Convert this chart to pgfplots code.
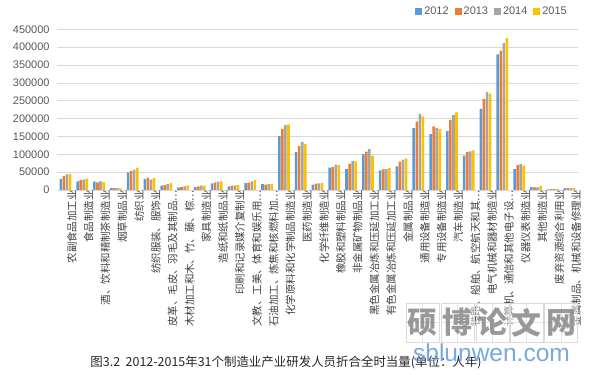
\documentclass[border=0pt]{standalone}
\usepackage{pgfplots}
\usepackage{pgfplotstable}
\pgfplotsset{compat=1.18}
\usepackage{fontspec}
\setmainfont{Liberation Sans}
\newfontfamily\cjk{Noto Sans CJK SC}
\definecolor{cA}{HTML}{5B9BD5}
\definecolor{cB}{HTML}{ED7D31}
\definecolor{cC}{HTML}{A5A5A5}
\definecolor{cD}{HTML}{FFC000}
\definecolor{gridgray}{HTML}{D9D9D9}
\definecolor{tickgray}{HTML}{595959}
\definecolor{labgray}{HTML}{404040}
\definecolor{wmblue}{HTML}{6A9FE0}

\pgfplotstableread{
x  a      b      c      d
0  30800  39200  43900  44800
1  24300  28000  28900  31700
2  23300  21500  24300  22400
3  5500   5000   5000   4500
4  49500  53200  57000  62500
5  30800  34500  28900  33600
6  12100  14000  16800  19600
7  6500   8400   10300  13000
8  8400   10300  12100  12100
9  18700  21500  23300  24300
10 10300  12100  13000  14000
11 19600  20500  24300  28000
12 16800  14900  16800  16800
13 151000 171000 182000 184000
14 106000 123000 134000 129000
15 14900  17700  18700  19600
16 62500  64400  71000  70000
17 58800  73800  81200  79400
18 100800 107400 114800 96200
19 55100  57900  58800  61600
20 66300  79400  85000  88700
21 173600 191400 212900 206300
22 156800 178300 173600 170800
23 165200 196000 210000 217500
24 96200  106400 108300 111100
25 226900 254900 274500 269800
26 380000 390200 411700 425700
27 58800  70000  72800  68200
28 8400   7500   7500   11200
29 1500   2500   3000   2500
30 5000   5500   5500   6000
}\datatable

\begin{document}
\begin{tikzpicture}
\useasboundingbox (0bp,0bp) rectangle (594bp,375bp);
\begin{axis}[
  at={(57bp,185bp)}, anchor=south west,
  scale only axis, width=521bp, height=160.67bp,
  ymin=0, ymax=450000, ytick={0,50000,...,450000},
  xmin=-0.5, xmax=30.5, xtick={0,...,30},
  xticklabels={{农副食品加工业},{食品制造业},{酒、饮料和精制茶制造业},{烟草制品业},{纺织业},{纺织服装、服饰业},{皮革、毛皮、羽毛及其制品…},{木材加工和木、竹、藤、棕…},{家具制造业},{造纸和纸制品业},{印刷和记录媒介复制业},{文教、工美、体育和娱乐用…},{石油加工、炼焦和核燃料加…},{化学原料和化学制品制造业},{医药制造业},{化学纤维制造业},{橡胶和塑料制品业},{非金属矿物制品业},{黑色金属冶炼和压延加工业},{有色金属冶炼和压延加工业},{金属制品业},{通用设备制造业},{专用设备制造业},{汽车制造业},{铁路、船舶、航空航天和其…},{电气机械和器材制造业},{计算机、通信和其他电子设…},{仪器仪表制造业},{其他制造业},{废弃资源综合利用业},{金属制品、机械和设备修理业}},
  xticklabel style={rotate=90, anchor=east, font=\cjk\fontsize{10.5}{12}\selectfont, text=labgray, inner sep=0pt, yshift=-6.5bp},
  yticklabel style={font=\fontsize{11}{13}\selectfont, text=tickgray, xshift=-4bp},
  /pgf/number format/fixed,
  /pgf/number format/precision=0,
  /pgf/number format/1000 sep={},
  /pgf/number format/assume math mode=true,
  scaled y ticks=false,
  ybar=0.45bp, bar width=2.6bp,
  ymajorgrids, grid style={draw=gridgray, line width=0.7bp},
  axis line style={draw=none},
  tick style={draw=none}, major tick length=0pt,
  legend style={at={(0.835,1.112)}, anchor=center, legend columns=4, draw=none, fill=none,
    font=\fontsize{11}{13}\selectfont, text=tickgray,
    /tikz/every even column/.append style={column sep=4bp}},
  legend image code/.code={\fill[#1] (0bp,-3.5bp) rectangle (7bp,3.5bp);},
]
\addplot[draw=none, fill=cA] table[x=x, y=a] {\datatable};
\addplot[draw=none, fill=cB] table[x=x, y=b] {\datatable};
\addplot[draw=none, fill=cC] table[x=x, y=c] {\datatable};
\addplot[draw=none, fill=cD] table[x=x, y=d] {\datatable};
\legend{2012,2013,2014,2015}
\end{axis}
% caption
\node[font=\cjk\fontsize{12.5}{14}\selectfont, text=black!85] at (286bp,13bp)
  {图3.2\ \ 2012-2015年31个制造业产业研发人员折合全时当量(单位：人年)};
% watermark
\foreach \cx/\ch in {422.5/硕,457.5/博,492.5/论,526.5/文,561/网}{
  \fill[white, opacity=0.45] (\cx bp-16.5bp,33bp) rectangle (\cx bp+16.5bp,72bp);
  \draw[gray!30, line width=0.5bp] (\cx bp-16.5bp,33bp) rectangle (\cx bp+16.5bp,72bp);
  \draw[gray!20, line width=0.4bp] (\cx bp,33bp) -- (\cx bp,72bp) (\cx bp-16.5bp,52.5bp) -- (\cx bp+16.5bp,52.5bp);
  \node[text opacity=0.8, inner sep=0pt,
        font=\cjk\bfseries\fontsize{30}{32}\selectfont, text=gray] at (\cx bp,52.5bp) {\ch};
}
\node[font=\fontsize{24.6}{26}\selectfont, text=wmblue, text opacity=0.9] at (491.5bp,22bp) {sblunwen.com};
\end{tikzpicture}
\end{document}
